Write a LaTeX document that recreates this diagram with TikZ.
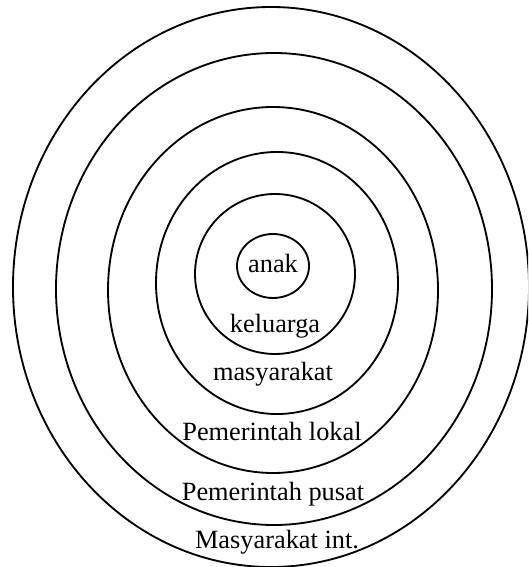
\documentclass[tikz,border=0pt]{standalone}
\usepackage{fontspec}
\setmainfont{Liberation Serif}
\usetikzlibrary{calc}

\begin{document}
\begin{tikzpicture}[x=0.02cm,y=-0.02cm,ring/.style={line width=1.05pt},every node/.style={font=\fontsize{15}{18}\selectfont,inner sep=0pt,anchor=base}]
\useasboundingbox (0,0) rectangle (528,567);
\clip (0,0) rectangle (528,567);
% rings, from the inside out
\foreach \cx/\cy/\rx/\ry in {273/266/36/32,275/274/80/80,277/283/121/131,273/290/165/183,274/289/218/236,271/287/258/280}
  \draw[ring] (\cx,\cy) ellipse [x radius=\rx*0.02cm,y radius=\ry*0.02cm];
\node (anak) at (273,273) {anak};
\node (kel) at (275,332) {keluarga};
\node (masy) at (273,380) {masyarakat};
\node (lokal) at (272,440) {Pemerintah lokal};
\node (pusat) at (273,500) {Pemerintah pusat};
\node (intl) at (277,548) {Masyarakat int.};
\end{tikzpicture}
\end{document}
